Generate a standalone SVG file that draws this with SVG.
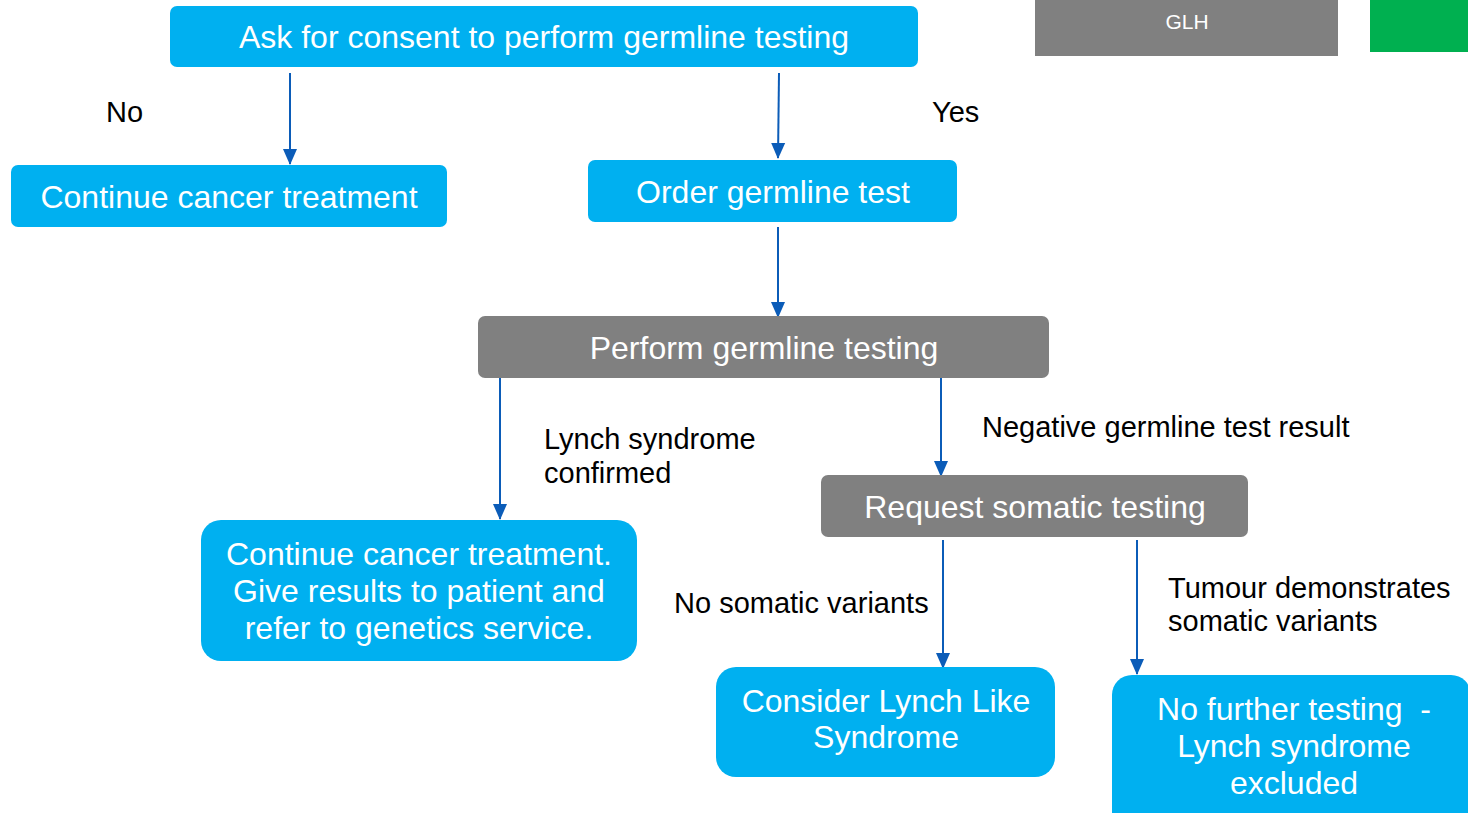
<svg xmlns="http://www.w3.org/2000/svg" width="1468" height="813" viewBox="0 0 1468 813">
<style>
.blue{fill:#00B0F0}
.gray{fill:#808080}
.nt{font-family:"Liberation Sans",Arial,sans-serif;font-size:32px;fill:#fff;text-anchor:middle}
.lb{font-family:"Liberation Sans",Arial,sans-serif;font-size:29px;fill:#000}
.c{stroke:#0B5CB8;stroke-width:2;fill:none;marker-end:url(#ah)}
</style>
<defs>
<marker id="ah" markerWidth="16" markerHeight="16" refX="15" refY="7" orient="auto" markerUnits="userSpaceOnUse" viewBox="0 0 16 14">
<path d="M0,0 L16,7 L0,14 Z" fill="#0B5CB8"/>
</marker>
</defs>
<rect width="1468" height="813" fill="#fff"/>
<g id="glh"><rect x="1035" y="0" width="303" height="56" class="gray"/><text x="1187" y="29" font-family="Liberation Sans,Arial,sans-serif" font-size="21" fill="#fff" text-anchor="middle">GLH</text></g>
<g id="green"><rect x="1370" y="0" width="98" height="52" fill="#00B050"/></g>
<g id="connectors">
<line x1="290" y1="73" x2="290" y2="164" class="c"/>
<line x1="779" y1="73" x2="778" y2="158" class="c"/>
<line x1="778" y1="227" x2="778" y2="317" class="c"/>
<line x1="500" y1="378" x2="500" y2="519" class="c"/>
<line x1="941" y1="378" x2="941" y2="476" class="c"/>
<line x1="943" y1="540" x2="943" y2="668" class="c"/>
<line x1="1137" y1="540" x2="1137" y2="674" class="c"/>
</g>
<g id="labels">
<text x="106" y="122" class="lb">No</text>
<text x="932" y="122" class="lb">Yes</text>
<text x="544" y="449" class="lb">Lynch syndrome</text>
<text x="544" y="483" class="lb">confirmed</text>
<text x="982" y="437" class="lb">Negative germline test result</text>
<text x="674" y="613" class="lb">No somatic variants</text>
<text x="1168" y="598" class="lb">Tumour demonstrates</text>
<text x="1168" y="631" class="lb">somatic variants</text>
</g>
<g id="consent"><rect x="170" y="6" width="748" height="61" rx="7" class="blue"/><text x="544" y="48" class="nt">Ask for consent to perform germline testing</text></g>
<g id="continue1"><rect x="11" y="165" width="436" height="62" rx="7" class="blue"/><text x="229" y="208" class="nt">Continue cancer treatment</text></g>
<g id="order"><rect x="588" y="160" width="369" height="62" rx="7" class="blue"/><text x="773" y="203" class="nt">Order germline test</text></g>
<g id="perform"><rect x="478" y="316" width="571" height="62" rx="7" class="gray"/><text x="764" y="359" class="nt">Perform germline testing</text></g>
<g id="somatic"><rect x="821" y="475" width="427" height="62" rx="7" class="gray"/><text x="1035" y="518" class="nt">Request somatic testing</text></g>
<g id="continue2"><rect x="201" y="520" width="436" height="141" rx="20" class="blue"/><text class="nt"><tspan x="419" y="565">Continue cancer treatment.</tspan><tspan x="419" y="602">Give results to patient and</tspan><tspan x="419" y="639">refer to genetics service.</tspan></text></g>
<g id="lynchlike"><rect x="716" y="667" width="339" height="110" rx="20" class="blue"/><text class="nt"><tspan x="886" y="712">Consider Lynch Like</tspan><tspan x="886" y="748">Syndrome</tspan></text></g>
<g id="nofurther"><rect x="1112" y="675" width="359" height="160" rx="20" class="blue"/><text class="nt"><tspan x="1294" y="720" xml:space="preserve">No further testing  -</tspan><tspan x="1294" y="757">Lynch syndrome</tspan><tspan x="1294" y="794">excluded</tspan></text></g>
</svg>
